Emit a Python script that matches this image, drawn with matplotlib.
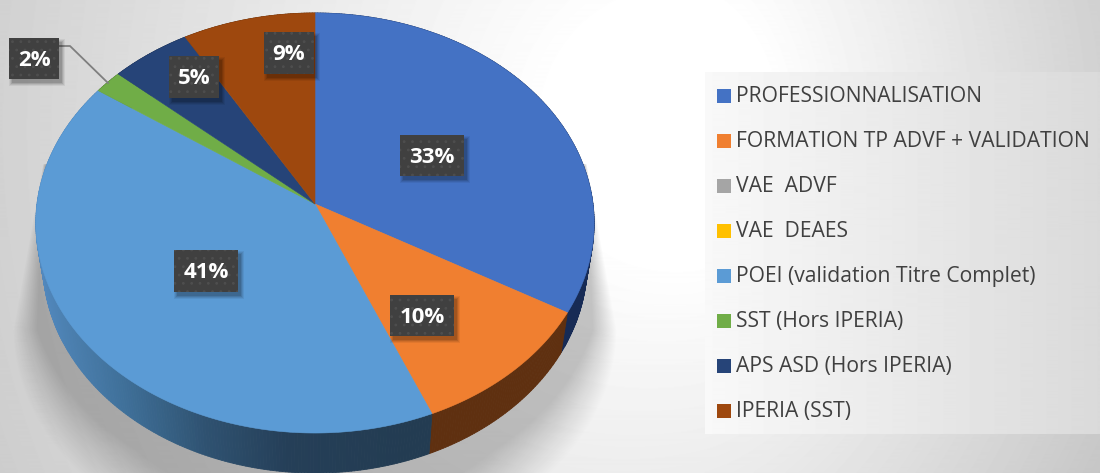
#!/usr/bin/env python3
import numpy as np
import matplotlib
matplotlib.use("Agg")
import matplotlib.pyplot as plt
from matplotlib.collections import PolyCollection
from matplotlib.colors import to_rgb
from matplotlib.patches import Polygon, Rectangle

categories = ["PROFESSIONNALISATION", "FORMATION TP ADVF + VALIDATION", "VAE  ADVF", "VAE  DEAES",
              "POEI (validation Titre Complet)", "SST (Hors IPERIA)", "APS ASD (Hors IPERIA)", "IPERIA (SST)"]
values = [33.3, 10.4, 0, 0, 41.0, 1.8, 5.1, 8.4]
colors = ["#4472C4", "#F07F30", "#A5A5A5", "#FFC000", "#5B9BD5", "#70AD47", "#264478", "#9E480E"]
side_colors = ["#172B55", "#5F3010", "#555555", "#7F6000", None, "#3B5E25", "#14243F", "#562706"]
labels = ["33%", "10%", "", "", "41%", "2%", "5%", "9%"]
label_boxes = [(400, 135, 64, 41), (390, 295, 64, 41), None, None,
               (174, 250, 64, 42), (9, 38, 50, 41), (169, 56, 50, 42), (264, 32, 50, 42)]

W, H = 1100, 473
CX, CY = 315, 204
A, B, K = 278, 208.3, 0.0905
DEPTH = 40
plt.rcParams['hatch.linewidth'] = 0.8


def rim(f):
    th = 2 * np.pi * np.asarray(f)
    w = 1 + K * np.cos(th)
    return CX + A * np.sin(th) / w, CY - B * np.cos(th) / w


fig = plt.figure(figsize=(11, 4.73), dpi=100)
ax = fig.add_axes([0, 0, 1, 1])
ax.set_xlim(0, W)
ax.set_ylim(H, 0)
ax.axis("off")

# background gradient
xx, yy = np.meshgrid(np.arange(W) + 0.5, np.arange(H) + 0.5)
sx = np.where(xx < 690, 700, 420)
sy = 800 - 300 * np.clip((xx - 300) / 800, 0, 1)
d = np.sqrt(((xx - 690) / sx) ** 2 + ((yy - 130) / sy) ** 2)
bg = 1 - 0.18 * np.clip((d - 0.2) / 0.8, 0, 1.3)
ax.imshow(bg, cmap="gray", vmin=0, vmax=1, extent=(0, W, H, 0), aspect="auto", zorder=0)

# shadow under the pie: straight sides at the top, rounded below
dx = np.abs(xx - 315)
half = 272 + 30 * np.clip((yy - 165) / 165, 0, 1)
r = np.where(yy < 330, dx / half, np.sqrt((dx / 302) ** 2 + ((yy - 330) / 230) ** 2))
soft = 0.01 + 0.07 * np.clip((yy - 170) / 160, 0, 1) + 0.13 * np.clip((yy - 330) / 120, 0, 1)
sh = np.clip((1 - r) / soft, 0, 1) * (yy > 165)
rgba = np.zeros((H, W, 4))
rgba[..., 3] = 0.22 * sh
ax.imshow(rgba, extent=(0, W, H, 0), aspect="auto", zorder=1)

# legend panel
panel = np.tile(np.linspace(0.975, 0.855, 395), (361, 1))
ax.imshow(panel, cmap="gray", vmin=0, vmax=1, extent=(705, 1100, 434, 73), aspect="auto", zorder=1)
ax.set_xlim(0, W)
ax.set_ylim(H, 0)

# pie side, then top
total = sum(values)
ends = np.cumsum(values) / total
starts = ends - np.array(values) / total
grad_x = [36, 122, 204, 286, 408, 440]
grad_c = np.array([to_rgb(c) for c in ["#5288BD", "#3F7099", "#2F5271", "#253F58", "#233C52", "#233C52"]])
for s, e, sc in zip(starts, ends, side_colors):
    if e <= s:
        continue
    fs = np.linspace(s, e, max(int((e - s) * 600), 2) + 1)
    x, y = rim(fs)
    x2 = CX + (x - CX) * 0.975
    y2 = y + DEPTH
    quads, cols = [], []
    for i in range(len(fs) - 1):
        quads.append([(x[i], y[i]), (x[i + 1], y[i + 1]), (x2[i + 1], y2[i + 1]), (x2[i], y2[i])])
        if sc is None:
            xm = (x[i] + x[i + 1]) / 2
            cols.append([np.interp(xm, grad_x, grad_c[:, k]) for k in range(3)])
        else:
            cols.append(to_rgb(sc))
    ax.add_collection(PolyCollection(quads, facecolors=cols, edgecolors=cols, linewidths=0.6, zorder=2))

for s, e, c in zip(starts, ends, colors):
    if e <= s:
        continue
    x, y = rim(np.linspace(s, e, max(int((e - s) * 720), 2) + 1))
    pts = [(CX, CY)] + list(zip(x, y))
    ax.add_patch(Polygon(pts, closed=True, facecolor=c, edgecolor=c, linewidth=0.4, zorder=3))

# leader line for the small slice
ax.plot([59, 70, 108], [46, 46, 83], color="#7F7F7F", lw=1.3, zorder=4)

# data labels
for lab, box in zip(labels, label_boxes):
    if box is None:
        continue
    bx, by, bw, bh = box
    for grow, a in [(4, 0.06), (3, 0.08), (2, 0.1), (1, 0.12)]:
        ax.add_patch(Rectangle((bx + 4 - grow, by + 5 - grow), bw + 2 * grow - 2, bh + 2 * grow - 2,
                               facecolor="black", edgecolor="none", alpha=a, zorder=5))
    ax.add_patch(Rectangle((bx, by), bw, bh, facecolor="#404040", edgecolor="#4E4E4E", hatch="..",
                           linewidth=0, zorder=6))
    ax.text(bx + bw / 2, by + bh / 2 + 1.5, lab, color="white", fontsize=16, fontweight="bold",
            family="Open Sans", ha="center", va="center", zorder=7)

# legend
legend_y = [96, 141, 186, 231, 276, 321, 366, 411]
for name, c, ly in zip(categories, colors, legend_y):
    ax.add_patch(Rectangle((717, ly - 7), 14, 14, facecolor=c, edgecolor="none", zorder=3))
    ax.text(736.5, ly, name, color="#404040", fontsize=15.2, family="Open Sans",
            ha="left", va="center", zorder=3)

plt.savefig("out.png", dpi=100)
